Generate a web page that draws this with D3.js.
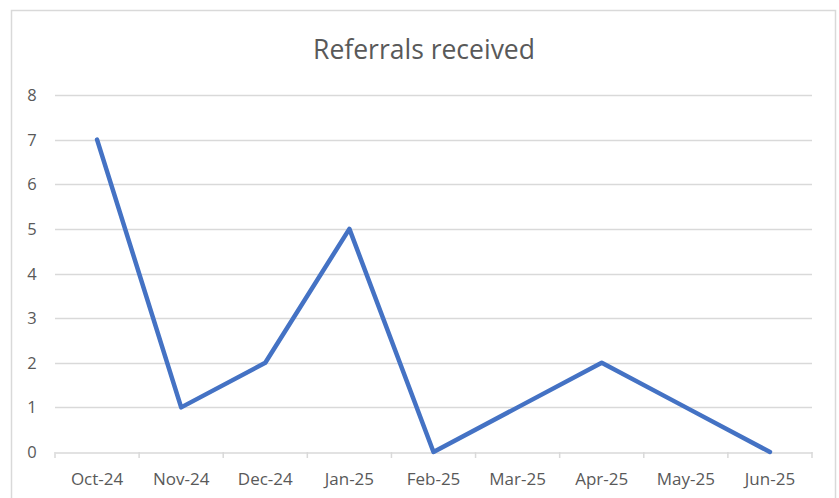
<!DOCTYPE html>
<html>
<head>
<meta charset="utf-8">
<script src="https://cdn.jsdelivr.net/npm/d3@7"></script>
<style>
  html, body { margin: 0; padding: 0; background: #fff; }
  svg { display: block; font-family: "Open Sans", "Liberation Sans", sans-serif; }
</style>
</head>
<body>
<svg id="chart" width="839" height="498"></svg>
<script>
  const months = ["Oct-24", "Nov-24", "Dec-24", "Jan-25", "Feb-25", "Mar-25", "Apr-25", "May-25", "Jun-25"];
  const referrals = [7, 1, 2, 5, 0, 1, 2, 1, 0];
  const yTicks = [0, 1, 2, 3, 4, 5, 6, 7, 8];

  const svg = d3.select("#chart");
  const plot = { left: 55, right: 812, top: 95, bottom: 452 };
  const grey = "#595959";

  // chart area border
  svg.append("rect")
    .attr("x", 11.5).attr("y", 10.5)
    .attr("width", 824).attr("height", 500)
    .attr("fill", "#fff")
    .attr("stroke", "#d9d9d9")
    .attr("stroke-width", 1.5);

  svg.append("text")
    .attr("x", 424).attr("y", 59)
    .attr("text-anchor", "middle")
    .attr("font-size", 26.5)
    .attr("fill", grey)
    .text("Referrals received");

  const x = d3.scaleBand().domain(months).range([plot.left, plot.right]);
  const y = d3.scaleLinear().domain([0, 8]).range([plot.bottom, plot.top]);

  // gridlines
  svg.append("g")
    .selectAll("line")
    .data(yTicks.filter((d) => d > 0))
    .join("line")
    .attr("x1", plot.left).attr("x2", plot.right)
    .attr("y1", (d) => Math.round(y(d)) + 0.5)
    .attr("y2", (d) => Math.round(y(d)) + 0.5)
    .attr("stroke", "#d9d9d9")
    .attr("stroke-width", 1.5);

  // y labels
  svg.append("g")
    .selectAll("text")
    .data(yTicks)
    .join("text")
    .attr("x", 32)
    .attr("y", (d) => y(d) + 6)
    .attr("text-anchor", "middle")
    .attr("font-size", 16.5)
    .attr("fill", grey)
    .text((d) => d);

  // x axis
  const xAxis = svg.append("g")
    .attr("transform", `translate(0,${Math.round(plot.bottom) + 0.5})`)
    .call(d3.axisBottom(x).tickSize(0).tickPadding(20));
  xAxis.select(".domain").attr("stroke", "#d9d9d9").attr("stroke-width", 1.5);
  xAxis.selectAll("text")
    .attr("font-size", 17)
    .attr("fill", grey)
    .attr("font-family", "Open Sans, Liberation Sans, sans-serif");

  // tick marks at category boundaries
  const bounds = months.map((m) => x(m)).concat([plot.right]);
  svg.append("g")
    .selectAll("line")
    .data(bounds)
    .join("line")
    .attr("x1", (d) => d).attr("x2", (d) => d)
    .attr("y1", plot.bottom).attr("y2", plot.bottom + 6)
    .attr("stroke", "#d9d9d9")
    .attr("stroke-width", 1.5);

  const line = d3.line()
    .x((d, i) => x(months[i]) + x.bandwidth() / 2)
    .y((d) => y(d));

  svg.append("path")
    .datum(referrals)
    .attr("d", line)
    .attr("fill", "none")
    .attr("stroke", "#4472c4")
    .attr("stroke-width", 4.5)
    .attr("stroke-linejoin", "round")
    .attr("stroke-linecap", "round");
</script>
</body>
</html>
